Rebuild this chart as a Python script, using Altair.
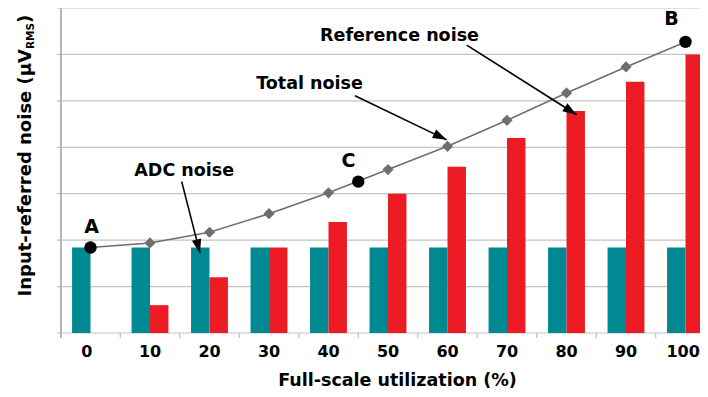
import math
import altair as alt
import pandas as pd

# ---------------- data ----------------
utilization = [0, 10, 20, 30, 40, 50, 60, 70, 80, 90, 100]
adc_noise = [1.84, 1.84, 1.84, 1.84, 1.84, 1.84, 1.84, 1.84, 1.84, 1.84, 1.84]
ref_noise = [0.0, 0.60, 1.20, 1.84, 2.39, 3.00, 3.58, 4.20, 4.78, 5.41, 6.00]
total_noise = [1.84, 1.94, 2.17, 2.57, 3.02, 3.52, 4.02, 4.58, 5.17, 5.73, 6.27]

marked_names = ["A", "C", "B"]
marked_x = [0, 45, 100]
marked_y = [1.84, 3.26, 6.27]
marked_label_x = [0.17, 43.36, 97.65]
marked_label_y = [2.15, 3.58, 6.63]

annot_text = ["Reference noise", "Total noise", "ADC noise"]
annot_x = [51.93, 36.8, 15.75]
annot_y = [6.30, 5.25, 3.38]
arrow_x1 = [63.23, 44.45, 15.33]
arrow_y1 = [6.20, 5.11, 3.26]
arrow_x2 = [81.71, 59.87, 18.40]
arrow_y2 = [4.70, 4.16, 1.72]

x_tick_labels = ["0", "10", "20", "30", "40", "50", "60", "70", "80", "90", "100"]
x_label_pos = [-0.6, 10, 20, 30, 40, 50, 60, 70, 80, 90, 99.6]
x_tick_marks = [-5, 5, 15, 25, 35, 45, 55, 65, 75, 85, 95]
y_grid = [0, 1, 2, 3, 4, 5, 6, 7]

# ---------------- layout / style ----------------
PX_PER_X = 5.95
W, H = 639.25, 325
X_MIN = -5
X_MAX = X_MIN + W / PX_PER_X
Y_MIN, Y_MAX = 0, 7
HALF_BAR = 3.1
FONT = "DejaVu Sans"
TEAL = "#008992"
RED = "#ed1c24"
GRAY_LINE = "#6e6e6e"
AXIS_GRAY = "#b5b5b5"
GRID_GRAY = "#c4c4c4"

px_x = W / (X_MAX - X_MIN)
px_y = H / (Y_MAX - Y_MIN)

xs = alt.Scale(domain=[X_MIN, X_MAX], nice=False, zero=False)
ys = alt.Scale(domain=[Y_MIN, Y_MAX], nice=False, zero=False)

bars = pd.DataFrame({"u": utilization, "adc": adc_noise, "ref": ref_noise,
                     "total": total_noise})
labels_df = pd.DataFrame({"p": x_label_pos, "lab": x_tick_labels})
marked = pd.DataFrame({"name": marked_names, "x": marked_x, "y": marked_y,
                       "lx": marked_label_x, "ly": marked_label_y})
annots = pd.DataFrame({"t": annot_text, "x": annot_x, "y": annot_y})
angles = []
for a, b, c, d in zip(arrow_x1, arrow_y1, arrow_x2, arrow_y2):
    ang = math.degrees(math.atan2(-(d - b) * px_y, (c - a) * px_x)) % 360
    angles.append(ang)
arrows = pd.DataFrame({"x1": arrow_x1, "y1": arrow_y1, "x2": arrow_x2, "y2": arrow_y2, "ang": angles})
grid_df = pd.DataFrame({"g": y_grid})
ticks_df = pd.DataFrame({"t": x_tick_marks})

NOAX = dict(axis=None)

# --- axis furniture drawn as marks ---
grid = alt.Chart(grid_df).mark_rule(color=GRID_GRAY, strokeWidth=1.2).encode(
    y=alt.Y("g:Q", scale=ys, **NOAX),
    x=alt.value(-4), x2=alt.value(W),
)
y_domain = alt.Chart(grid_df).mark_rule(color=AXIS_GRAY, strokeWidth=1.2).encode(
    x=alt.value(0), y=alt.value(0), y2=alt.value(H + 5),
)
x_ticks = alt.Chart(ticks_df).mark_rule(color=AXIS_GRAY, strokeWidth=1).encode(
    x=alt.X("t:Q", scale=xs, **NOAX),
    y=alt.value(H), y2=alt.value(H + 5),
)
x_labels = alt.Chart(labels_df).mark_text(
    font=FONT, fontSize=16, fontWeight="bold", color="black",
    align="center", baseline="alphabetic"
).encode(
    x=alt.X("p:Q", scale=xs, **NOAX), y=alt.value(H + 24), text="lab:N",
)
x_title = alt.Chart(pd.DataFrame({"t": ["Full-scale utilization (%)"]})).mark_text(
    font=FONT, fontSize=17.5, fontWeight="bold", color="black",
    align="center", baseline="alphabetic"
).encode(x=alt.value(336.75), y=alt.value(H + 53), text="t:N")

# --- data marks ---
base = alt.Chart(bars)
teal = base.transform_calculate(
    xa=f"datum.u - {HALF_BAR}", xb="datum.u"
).mark_bar(color=TEAL).encode(
    x=alt.X("xa:Q", scale=xs, **NOAX), x2="xb:Q",
    y=alt.Y("adc:Q", scale=ys, **NOAX), y2=alt.datum(0),
)
red = base.transform_calculate(
    xa="datum.u", xb=f"datum.u + {HALF_BAR}"
).mark_bar(color=RED).encode(
    x=alt.X("xa:Q", scale=xs, **NOAX), x2="xb:Q",
    y=alt.Y("ref:Q", scale=ys, **NOAX), y2=alt.datum(0),
)
line = base.mark_line(color=GRAY_LINE, strokeWidth=1.6).encode(
    x=alt.X("u:Q", scale=xs, **NOAX),
    y=alt.Y("total:Q", scale=ys, **NOAX),
)
diamonds = base.transform_filter("datum.u > 0 && datum.u < 100").mark_point(
    shape="diamond", filled=True, color=GRAY_LINE, size=125, opacity=1
).encode(
    x=alt.X("u:Q", scale=xs, **NOAX),
    y=alt.Y("total:Q", scale=ys, **NOAX),
)
dots = alt.Chart(marked).mark_point(
    shape="circle", filled=True, color="black", size=155, opacity=1
).encode(
    x=alt.X("x:Q", scale=xs, **NOAX),
    y=alt.Y("y:Q", scale=ys, **NOAX),
)
dot_labels = alt.Chart(marked).mark_text(
    font=FONT, fontSize=19, fontWeight="bold", color="black",
    align="center", baseline="alphabetic"
).encode(
    x=alt.X("lx:Q", scale=xs, **NOAX),
    y=alt.Y("ly:Q", scale=ys, **NOAX),
    text="name:N",
)
annot_labels = alt.Chart(annots).mark_text(
    font=FONT, fontSize=17.5, fontWeight="bold", color="black",
    align="center", baseline="alphabetic"
).encode(
    x=alt.X("x:Q", scale=xs, **NOAX),
    y=alt.Y("y:Q", scale=ys, **NOAX),
    text="t:N",
)
arrow_lines = alt.Chart(arrows).mark_rule(color="black", strokeWidth=1.6).encode(
    x=alt.X("x1:Q", scale=xs, **NOAX),
    y=alt.Y("y1:Q", scale=ys, **NOAX),
    x2="x2:Q", y2="y2:Q",
)
arrow_heads = alt.Chart(arrows).mark_point(
    shape="M0,0 L-1,-0.34 L-1,0.34 Z", filled=True, color="black", size=784, opacity=1
).encode(
    x=alt.X("x2:Q", scale=xs, **NOAX),
    y=alt.Y("y2:Q", scale=ys, **NOAX),
    angle=alt.Angle("ang:Q", scale=None),
)

# y-axis title with subscript, built from text pieces
main_title = alt.Chart(pd.DataFrame({"t": ["Input-referred noise (μV"]})).mark_text(
    font=FONT, fontSize=18, fontWeight="bold", color="black",
    angle=270, align="right", baseline="alphabetic"
).encode(x=alt.value(-29.75), y=alt.value(41), text="t:N")
sub_title = alt.Chart(pd.DataFrame({"t": ["RMS"]})).mark_text(
    font=FONT, fontSize=10.5, fontWeight="bold", color="black",
    angle=270, align="left", baseline="alphabetic"
).encode(x=alt.value(-26.5), y=alt.value(41), text="t:N")
close_title = alt.Chart(pd.DataFrame({"t": [")"]})).mark_text(
    font=FONT, fontSize=18, fontWeight="bold", color="black",
    angle=270, align="left", baseline="alphabetic"
).encode(x=alt.value(-29.75), y=alt.value(14.9), text="t:N")

chart = alt.layer(
    grid, y_domain, x_ticks, teal, red, line, diamonds, dots, dot_labels,
    annot_labels, arrow_lines, arrow_heads, x_labels, x_title,
    main_title, sub_title, close_title
).properties(
    width=W, height=H,
    autosize=alt.AutoSizeParams(type="none"),
    padding={"left": 52.75, "top": 0, "right": 0, "bottom": 56},
).configure_view(stroke=None)

chart.save("out.html", embed_options={"renderer": "svg", "actions": False})
